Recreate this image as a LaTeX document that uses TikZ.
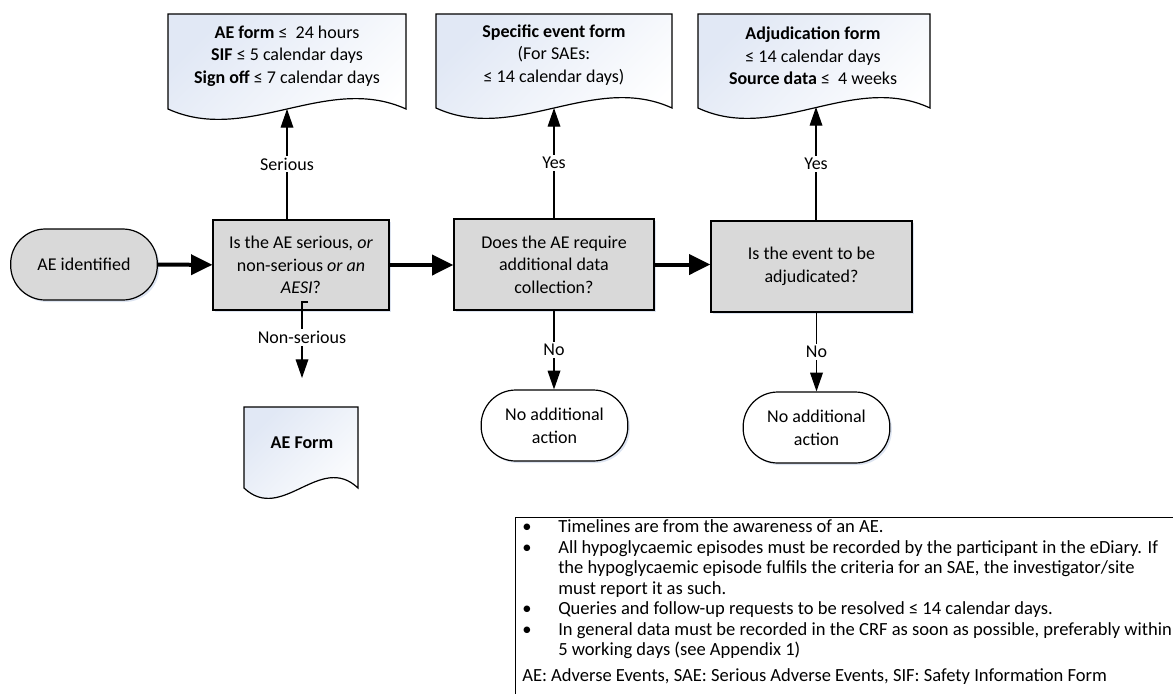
\documentclass[tikz,border=0pt]{standalone}
\usepackage{fontspec}
\setmainfont{Carlito}
\usetikzlibrary{arrows.meta,shadows}
\definecolor{boxgray}{HTML}{D9D9D9}
\definecolor{docblue}{HTML}{E1E8F5}
\definecolor{shadowblue}{HTML}{A9BCDD}
\newcommand\docshape[4]{\path[docstyle] (#1,#4) -- (#1,#3) -- (#2,#3) -- (#2,#4) .. controls ({#2-(#2-#1)/3},{#4-36}) and ({#1+(#2-#1)/3},{#4+36}) .. cycle;}
\begin{document}
\begin{tikzpicture}[x=0.75pt,y=-0.75pt,
  every node/.style={font=\fontsize{13.5}{17}\selectfont},
  decision/.style={draw, line width=0.9pt, fill=boxgray, align=center, inner sep=2pt,
     drop shadow={shadow xshift=1.5pt, shadow yshift=-1.5pt, fill=shadowblue, opacity=0.4}},
  term/.style={draw, line width=0.9pt, rounded corners=26pt, align=center,
     minimum width=110pt, minimum height=53.25pt,
     drop shadow={shadow xshift=1.5pt, shadow yshift=-1.5pt, fill=shadowblue, opacity=0.4}},
  docstyle/.style={draw, line width=0.9pt, top color=docblue, bottom color=white, shading angle=45},
  doctext/.style={align=center, inner sep=0pt},
  conn/.style={draw, line width=0.9pt, -{Triangle[length=14pt,width=9.5pt]}},
  mainarrow/.style={draw, line width=3pt, -{Triangle[length=16pt,width=15pt]}},
  lab/.style={fill=white, inner sep=1.5pt},
  notetext/.style={font=\fontsize{13.9}{15}\selectfont, anchor=base west, inner sep=0pt}
]
\useasboundingbox (0,0) rectangle (1173,693);
\clip (0,0) rectangle (1173,693);

% process nodes
\node[term, fill=boxgray] (start) at (84,264.5) {AE identified};
\node[decision, minimum width=132pt, minimum height=67.5pt] (q1) at (301,265)
  {Is the AE serious\textit{, or}\\non-serious \textit{or an}\\\textit{AESI}?};
\node[decision, minimum width=150pt, minimum height=68.25pt] (q2) at (554,264.5)
  {Does the AE require\\additional data\\collection?};
\node[decision, minimum width=150.75pt, minimum height=68.25pt] (q3) at (811.5,266.5)
  {Is the event to be\\adjudicated?};
\node[term, fill=white] (na1) at (554.5,425.5) {No additional\\action};
\node[term, fill=white] (na2) at (816.5,427.5) {No additional\\action};

% documents
\docshape{168}{406}{14}{109}
\node[doctext] (d1t) at (287,56) {\textbf{AE form} ≤\ \ 24 hours\\\textbf{SIF} ≤ 5 calendar days\\\textbf{Sign off} ≤ 7 calendar days};
\coordinate (d1b) at (287,109);
\docshape{436}{672}{14}{108}
\node[doctext] (d2t) at (554,55) {\textbf{Specific event form}\\(For SAEs:\\≤ 14 calendar days)};
\coordinate (d2b) at (554,108);
\docshape{698}{930}{14}{108}
\node[doctext] (d3t) at (813,56) {\textbf{Adjudication form}\\≤ 14 calendar days\\\textbf{Source data} ≤\ \ 4 weeks};
\coordinate (d3b) at (816,107);
\docshape{244}{358}{407}{488}
\node[doctext] (d4t) at (302,443) {\textbf{AE Form}};
\coordinate (ns) at (302,378);
\coordinate (jog) at (308,302);

% connectors
\draw[mainarrow] (start) -- (q1);
\draw[mainarrow] (q1.east) -- (q1.east -| q2.west);
\draw[mainarrow] (q2.east) -- (q2.east -| q3.west);
\draw[conn] (q1.north -| d1b) -- node[lab]{Serious} (d1b);
\draw[conn] (q2.north -| d2b) -- node[lab]{Yes} (d2b);
\draw[conn] (q3.north -| d3b) -- node[lab]{Yes} (d3b);
\draw[conn] (jog) -- (jog -| ns) -- node[lab, pos=0.47]{Non-serious} (ns);
\draw[conn] (q2.south) -- node[lab]{No} (q2.south |- na1.north);
\draw[conn] (q3.south -| na2) -- node[lab]{No} (na2.north);

% note box
\draw[line width=0.75pt, fill=white] (515,517) rectangle (1200,720);
\node[notetext] (b1) at (522,532.5) {\textbullet};
\node[notetext] (n1) at (558,532.5) {Timelines are from the awareness of an AE.};
\node[notetext] (b2) at (522,553) {\textbullet};
\node[notetext] (n2) at (558,553) {All hypoglycaemic episodes must be recorded by the participant in the eDiary. If};
\node[notetext] (n3) at (558,573.5) {the hypoglycaemic episode fulfils the criteria for an SAE, the investigator/site};
\node[notetext] (n4) at (558,594) {must report it as such.};
\node[notetext] (b3) at (522,614.5) {\textbullet};
\node[notetext] (n5) at (558,614.5) {Queries and follow-up requests to be resolved ≤ 14 calendar days.};
\node[notetext] (b4) at (522,635) {\textbullet};
\node[notetext] (n6) at (558,635) {In general data must be recorded in the CRF as soon as possible, preferably within};
\node[notetext] (n7) at (558,655.5) {5 working days (see Appendix 1)};
\node[notetext] (n8) at (522,681.5) {AE: Adverse Events, SAE: Serious Adverse Events, SIF: Safety Information Form};
\end{tikzpicture}
\end{document}
